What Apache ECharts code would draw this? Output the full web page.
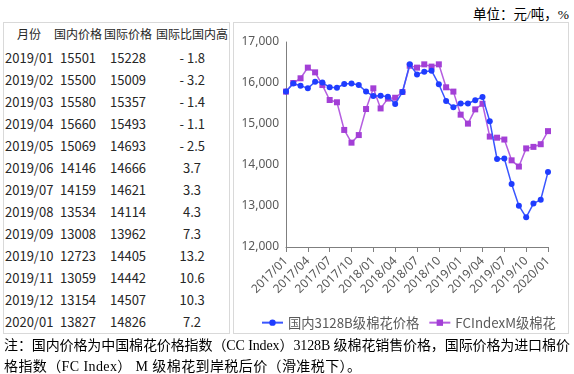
<!DOCTYPE html>
<html><head><meta charset="utf-8">
<script src="https://cdn.jsdelivr.net/npm/echarts@6/dist/echarts.min.js"></script>
<style>
html,body{margin:0;padding:0;background:#fff;width:574px;height:374px;overflow:hidden;}
#wrap{position:relative;width:574px;height:374px;font-family:"Noto Sans CJK SC","Noto Sans",sans-serif;}
.box{position:absolute;border:1px solid #d9d9d9;box-sizing:border-box;}
.cell{position:absolute;font-size:13px;color:#262626;white-space:nowrap;line-height:16px;}
#chart{position:absolute;left:0;top:0;width:574px;height:374px;}
#unit{position:absolute;right:5px;top:3px;font-size:13.5px;color:#000;font-family:"Liberation Serif","Noto Sans CJK SC",serif;}
.note{position:absolute;left:4px;font-size:14px;line-height:21px;color:#000;font-family:"Liberation Serif","Noto Sans CJK SC",serif;white-space:nowrap;}
#note1{top:335px;}
#note2{top:356px;letter-spacing:0.4px;}
</style></head>
<body><div id="wrap">
<div id="unit">单位：元/吨，%</div>
<div class="box" style="left:3px;top:22px;width:227px;height:312px;"></div>
<div class="box" style="left:233px;top:22px;width:336px;height:312px;"></div>
<div id="table"></div>
<div id="chart"></div>
<div class="note" id="note1">注：国内价格为中国棉花价格指数（CC Index）3128B 级棉花销售价格，国际价格为进口棉价</div>
<div class="note" id="note2">格指数（FC Index） M 级棉花到岸税后价（滑准税下）。</div>
</div>
<script>
// ---- table data ----
var tableHeader = ['月份', '国内价格', '国际价格', '国际比国内高'];
var tableMonths = ['2019/01','2019/02','2019/03','2019/04','2019/05','2019/06','2019/07','2019/08','2019/09','2019/10','2019/11','2019/12','2020/01'];
var tableDomestic = [15501,15500,15580,15660,15069,14146,14159,13534,13008,12723,13059,13154,13827];
var tableIntl = [15228,15009,15357,15493,14693,14666,14621,14114,13962,14405,14442,14507,14826];
var tableDiff = ['-1.8','-3.2','-1.4','-1.1','-2.5','3.7','3.3','4.3','7.3','13.2','10.6','10.3','7.2'];

// ---- chart data ----
var months = ['2017/01','2017/02','2017/03','2017/04','2017/05','2017/06','2017/07','2017/08','2017/09','2017/10','2017/11','2017/12',
  '2018/01','2018/02','2018/03','2018/04','2018/05','2018/06','2018/07','2018/08','2018/09','2018/10','2018/11','2018/12',
  '2019/01','2019/02','2019/03','2019/04','2019/05','2019/06','2019/07','2019/08','2019/09','2019/10','2019/11','2019/12','2020/01'];
var domestic = [15790,15990,15935,15870,16030,16010,15895,15885,15975,15990,15950,15790,
  15680,15690,15665,15490,15780,16455,16210,16275,16300,15968,15560,15407,
  15501,15500,15580,15660,15069,14146,14159,13534,13008,12723,13059,13154,13827];
var fcIndex = [15790,16000,16115,16375,16260,15950,15585,15530,14855,14545,14730,15365,
  15870,15380,15620,15640,15780,16420,16375,16455,16400,16455,15895,15790,
  15228,15009,15357,15493,14693,14666,14621,14114,13962,14405,14442,14507,14826];
var seriesNames = ['国内3128B级棉花价格', 'FCIndexM级棉花'];

// stretch note line 1 to full width
(function(){
  var n1 = document.getElementById('note1');
  var w = n1.offsetWidth;
  var len = n1.textContent.length;
  var target = 566;
  if (len > 1) n1.style.letterSpacing = ((target - w) / (len - 1)) + 'px';
})();

// build table
var colCenters = [29, 78, 128, 192];
var t = document.getElementById('table');
function addCell(txt, cx, cy, fs){
  var d = document.createElement('div');
  d.className = 'cell';
  d.textContent = txt;
  if (fs) d.style.fontSize = fs + 'px';
  t.appendChild(d);
  var w = d.offsetWidth;
  d.style.left = (cx - w/2) + 'px';
  d.style.top = (cy - 8) + 'px';
}
tableHeader.forEach(function(h, j){ addCell(h, colCenters[j], 34, 12); });
tableMonths.forEach(function(m, i){
  var cy = 57.5 + i*22.0;
  addCell(m, colCenters[0], cy);
  addCell(String(tableDomestic[i]), colCenters[1], cy);
  addCell(String(tableIntl[i]), colCenters[2], cy);
  addCell(tableDiff[i].replace('-', '- '), colCenters[3], cy);
});

var chart = echarts.init(document.getElementById('chart'), null, {renderer:'canvas'});
chart.setOption({
  backgroundColor: 'transparent',
  animation: false,
  textStyle: {fontFamily: '"Noto Sans","Noto Sans CJK SC",sans-serif'},
  grid: {left: 286, right: 26, top: 42, bottom: 127, containLabel: false},
  legend: {
    left: 256, top: 311, width: 330, itemWidth: 21, itemHeight: 8, itemGap: 9,
    textStyle: {fontSize: 13.3, color: '#595959', fontFamily: '"Noto Sans CJK SC",sans-serif'},
    data: seriesNames
  },
  xAxis: {
    type: 'category', boundaryGap: false, data: months,
    axisLine: {lineStyle: {color: '#7f7f7f', width: 1}},
    axisTick: {interval: 2, length: 5, lineStyle: {color: '#7f7f7f'}},
    axisLabel: {interval: 2, rotate: 45, fontSize: 12, color: '#595959', margin: 12},
    splitLine: {show: false}
  },
  yAxis: {
    type: 'value', min: 12000, max: 17000, interval: 1000,
    axisLine: {show: true, lineStyle: {color: '#7f7f7f', width: 1}},
    axisTick: {show: false},
    splitLine: {show: false},
    axisLabel: {fontSize: 12, color: '#595959', margin: 7,
      formatter: function(v){ return v.toLocaleString('en-US'); }}
  },
  series: [
    {name: seriesNames[0], type: 'line', data: domestic, symbol: 'circle', symbolSize: 6, showAllSymbol: true,
     itemStyle: {color: '#1f3cff'}, lineStyle: {color: '#3a56ff', width: 1.5}, z: 3},
    {name: seriesNames[1], type: 'line', data: fcIndex, symbol: 'rect', symbolSize: 6, showAllSymbol: true,
     itemStyle: {color: '#a33fd6'}, lineStyle: {color: '#b55ee0', width: 1.5}, z: 2}
  ]
});
</script>
</body></html>
